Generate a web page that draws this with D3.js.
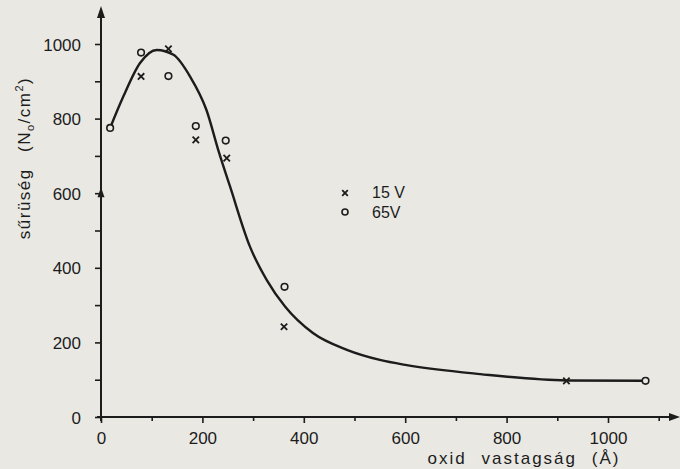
<!DOCTYPE html>
<html>
<head>
<meta charset="utf-8">
<script src="https://cdn.jsdelivr.net/npm/d3@7"></script>
<style>
  html, body { margin: 0; padding: 0; background: #e9e8e3; }
  svg { display: block; }
  text { font-family: "Liberation Sans", Arial, sans-serif; fill: #1c1c1c; }
  .tick text { font-size: 17px; fill: #1c1c1c; }
</style>
</head>
<body>
<div id="chart"></div>
<script>
// adatok
const xTicks = [0, 200, 400, 600, 800, 1000];
const xMinor = [100, 300, 500, 700, 900, 1100];
const yTicks = [0, 200, 400, 600, 800, 1000];
const yMinor = [100, 300, 500, 700, 900];

const series15V = [
    [79, 913], [133, 987], [187, 743], [248, 694], [361, 242], [918, 97]
];
const series65V = [
    [18, 775], [79, 977], [133, 914], [187, 780], [246, 741], [362, 349], [1074, 97]
];
// illesztett görbe
const curveX = [18, 44, 77, 110, 143, 176, 208, 233, 254, 294, 327, 363, 418, 485, 550, 603, 748, 918, 1074];
const curveY = [775, 859, 949, 984, 971, 912, 823, 708, 620, 456, 367, 296, 225, 180, 153, 139, 115, 98, 97];

const legendLabels = ['15 V', '65V'];

const width = 680, height = 469;
const ink = '#1c1c1c';

const svg = d3.select('#chart').append('svg')
    .attr('width', width)
    .attr('height', height);

const x = d3.scaleLinear().domain([0, 1000]).range([101, 608]);
const y = d3.scaleLinear().domain([0, 1000]).range([417, 44]);

// tengelyek
const xAxis = svg.append('g')
    .attr('transform', `translate(0,${y(0)})`)
    .call(d3.axisBottom(x).tickValues(xTicks).tickSize(6).tickPadding(5).tickFormat(d3.format('d')));
svg.append('g')
    .attr('transform', `translate(0,${y(0)})`)
    .call(d3.axisBottom(x).tickValues(xMinor).tickSize(4).tickFormat(''));

const yAxis = svg.append('g')
    .attr('transform', `translate(${x(0)},0)`)
    .call(d3.axisLeft(y).tickValues(yTicks).tickSize(6).tickPadding(14).tickFormat(d3.format('d')));
svg.append('g')
    .attr('transform', `translate(${x(0)},0)`)
    .call(d3.axisLeft(y).tickValues(yMinor).tickSize(6).tickFormat(''));

svg.selectAll('.domain').remove();
svg.selectAll('.tick line').attr('stroke', ink).attr('stroke-width', 1.6);
svg.selectAll('.tick text').attr('fill', ink);
xAxis.selectAll('.tick text').attr('dy', '0.95em');
yAxis.selectAll('.tick text').attr('dy', '0.36em');

// tengelyvonalak nyíllal
svg.append('line')
    .attr('x1', x(0) - 4).attr('x2', 672)
    .attr('y1', y(0)).attr('y2', y(0))
    .attr('stroke', ink).attr('stroke-width', 2);
svg.append('path')
    .attr('d', `M680,${y(0)} L669,${y(0) - 4} L669,${y(0) + 4} Z`)
    .attr('fill', ink);

svg.append('line')
    .attr('x1', x(0)).attr('x2', x(0))
    .attr('y1', y(0) + 4).attr('y2', 14)
    .attr('stroke', ink).attr('stroke-width', 2);
svg.append('path')
    .attr('d', `M${x(0)},6 L${x(0) - 4},18 L${x(0) + 4},18 Z`)
    .attr('fill', ink);
// kis nyílhegy a 600-as jelnél
svg.append('path')
    .attr('d', `M${x(0)},${y(600) - 6} L${x(0) - 3.5},${y(600) + 4} L${x(0) + 3.5},${y(600) + 4} Z`)
    .attr('fill', ink);

// görbe
const line = d3.line()
    .x((d, i) => x(curveX[i]))
    .y((d, i) => y(curveY[i]))
    .curve(d3.curveMonotoneX);

svg.append('path')
    .datum(curveX)
    .attr('d', line)
    .attr('fill', 'none')
    .attr('stroke', ink)
    .attr('stroke-width', 2.4);

// mérési pontok
function cross(sel, cx, cy, s) {
    sel.append('path')
        .attr('d', `M${cx - s},${cy - s} L${cx + s},${cy + s} M${cx - s},${cy + s} L${cx + s},${cy - s}`)
        .attr('stroke', ink)
        .attr('stroke-width', 1.8)
        .attr('fill', 'none');
}

const marks = svg.append('g');
series15V.forEach(d => cross(marks, x(d[0]), y(d[1]), 3.2));
marks.selectAll('circle')
    .data(series65V)
    .enter()
    .append('circle')
    .attr('cx', d => x(d[0]))
    .attr('cy', d => y(d[1]))
    .attr('r', 3.3)
    .attr('fill', '#e9e8e3')
    .attr('stroke', ink)
    .attr('stroke-width', 1.6);

// jelmagyarázat
const legend = svg.append('g');
cross(legend, 345, 193, 2.8);
legend.append('circle')
    .attr('cx', 345).attr('cy', 212).attr('r', 3)
    .attr('fill', 'none').attr('stroke', ink).attr('stroke-width', 1.6);
legend.selectAll('text')
    .data(legendLabels)
    .enter()
    .append('text')
    .attr('x', 372)
    .attr('y', (d, i) => 198 + i * 19.5)
    .attr('font-size', '16px')
    .text(d => d);

// tengelyfeliratok
svg.append('text')
    .attr('x', 524)
    .attr('y', 464)
    .attr('text-anchor', 'middle')
    .attr('font-size', '17px')
    .attr('letter-spacing', '2px')
    .attr('word-spacing', '8px')
    .text('oxid vastagság (Å)');

svg.append('text')
    .attr('transform', 'translate(30,158) rotate(-90)')
    .attr('text-anchor', 'middle')
    .attr('font-size', '17px')
    .attr('letter-spacing', '1.5px')
    .attr('word-spacing', '10px')
    .html('sűrüség (N<tspan font-size="11px" dy="4">o</tspan><tspan dy="-4">/cm</tspan><tspan font-size="11px" dy="-7">2</tspan><tspan dy="7">)</tspan>');
</script>
</body>
</html>
